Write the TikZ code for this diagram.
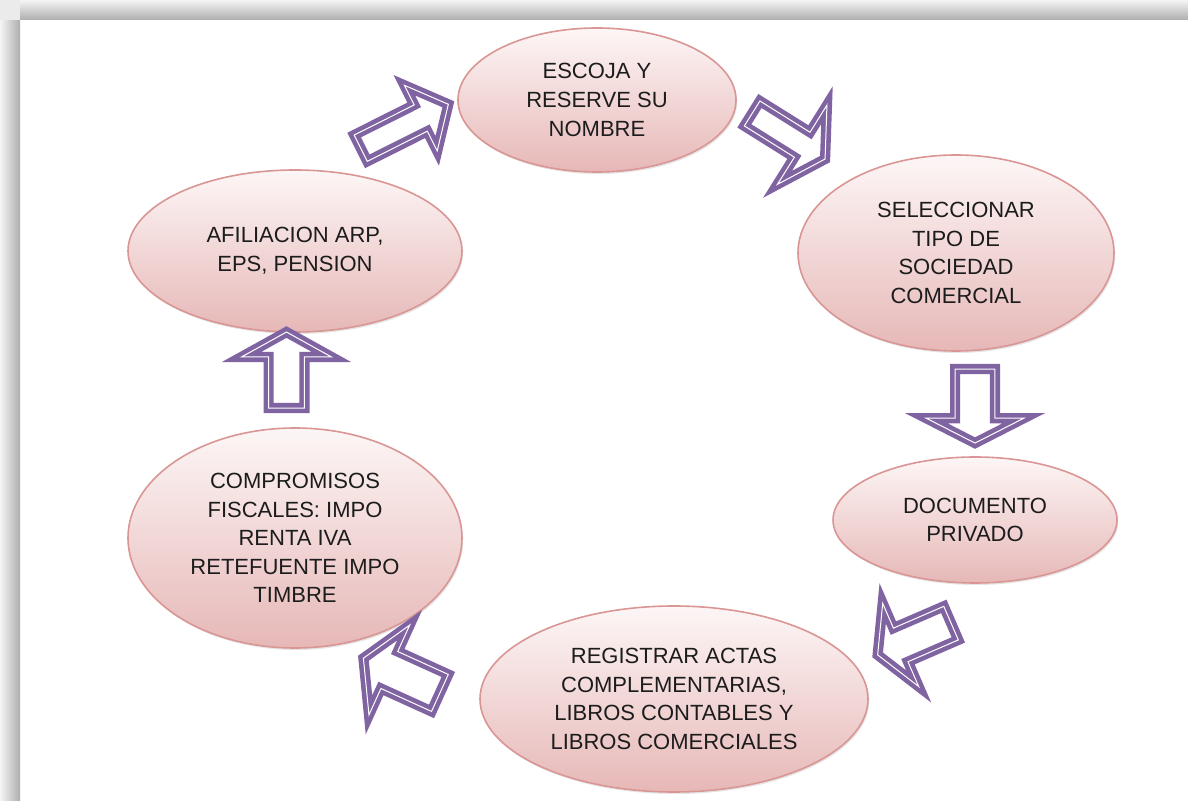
\documentclass[tikz,border=0pt]{standalone}
\usepackage{fontspec}
\setmainfont{Liberation Sans}
\usetikzlibrary{shapes.geometric,shapes.arrows,shadows}
\definecolor{stepline}{HTML}{D99694}
\definecolor{steptop}{HTML}{FDF6F6}
\definecolor{stepbottom}{HTML}{E6B8B7}
\definecolor{arrowpurple}{HTML}{8064A2}
\definecolor{steptext}{HTML}{1C1C1C}
\begin{document}
\begin{tikzpicture}[x=0.5pt,y=-0.5pt,
  step node/.style={ellipse,draw=stepline,line width=0.8pt,top color=steptop,bottom color=stepbottom,
    inner sep=0pt,align=center,text=steptext,font=\fontsize{11}{14.3}\selectfont,
    drop shadow={opacity=0.2,shadow xshift=0.6pt,shadow yshift=-1pt}},
  flow arrow/.style={single arrow,draw=arrowpurple,double=white,double distance=0.5pt,
    line width=2.3pt,fill=white,minimum width=0pt}]

  \useasboundingbox (0,0) rectangle (1188,801);
  \fill[white] (0,0) rectangle (1188,801);
  \shade[left color=black!4,right color=black!32] (0,20) rectangle (20,801);
  \shade[top color=black!4,bottom color=black!32] (20,0) rectangle (1188,20);
  \fill[black!8] (0,0) rectangle (20,20);

  \node[step node,minimum width=139pt,minimum height=72pt] (escoja) at (597,100) {ESCOJA Y\\RESERVE SU\\NOMBRE};
  \node[step node,minimum width=158pt,minimum height=98pt] (tipo) at (956,253) {SELECCIONAR\\TIPO DE\\SOCIEDAD\\COMERCIAL};
  \node[step node,minimum width=142pt,minimum height=63pt] (documento) at (975,520) {DOCUMENTO\\PRIVADO};
  \node[step node,minimum width=194pt,minimum height=93pt] (registro) at (674,699) {REGISTRAR ACTAS\\COMPLEMENTARIAS,\\LIBROS CONTABLES Y\\LIBROS COMERCIALES};
  \node[step node,minimum width=167pt,minimum height=110pt] (fiscal) at (295,538) {COMPROMISOS\\FISCALES: IMPO\\RENTA IVA\\RETEFUENTE IMPO\\TIMBRE};
  \node[step node,minimum width=167pt,minimum height=81pt] (afiliacion) at (295,251) {AFILIACION ARP,\\EPS, PENSION};

  \node[flow arrow,rotate=26.6,minimum height=49pt,inner sep=6.2pt,single arrow head extend=11pt,single arrow tip angle=100] (a1) at (399,129) {};
  \node[flow arrow,rotate=-32,minimum height=43pt,inner sep=6.2pt,single arrow head extend=16pt,single arrow tip angle=120] (a2) at (785,134) {};
  \node[flow arrow,rotate=-90,minimum height=37pt,inner sep=8.8pt,single arrow head extend=14.5pt,single arrow tip angle=126] (a3) at (975,401) {};
  \node[flow arrow,rotate=203.4,minimum height=40pt,inner sep=8pt,single arrow head extend=13.5pt,single arrow tip angle=122] (a4) at (919,637) {};
  \node[flow arrow,rotate=155.6,minimum height=42pt,inner sep=9pt,single arrow head extend=14.5pt,single arrow tip angle=120] (a6) at (407,678) {};
  \node[flow arrow,rotate=90,minimum height=38pt,inner sep=7.8pt,single arrow head extend=13.5pt,single arrow tip angle=122] (a5) at (286.5,375) {};
\end{tikzpicture}
\end{document}
